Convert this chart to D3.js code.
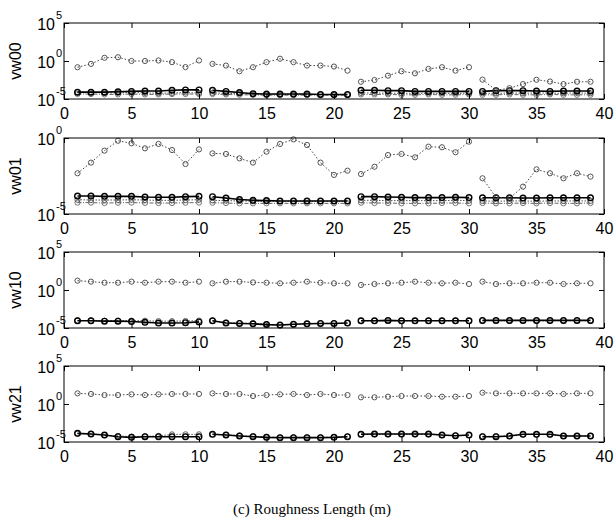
<!DOCTYPE html>
<html>
<head>
<meta charset="utf-8">
<script src="https://cdn.jsdelivr.net/npm/d3@7"></script>
<style>
  body { margin: 0; background: #fff; }
  svg { display: block; font-family: "Liberation Sans", Arial, sans-serif; }
</style>
</head>
<body>
<svg id="chart" width="616" height="530"></svg>
<script>

//============================================================
// Data (values are log10 of the plotted quantity)
//------------------------------------------------------------

var xValues = [1, 2, 3, 4, 5, 6, 7, 8, 9, 10,
               11, 12, 13, 14, 15, 16, 17, 18, 19, 20, 21,
               22, 23, 24, 25, 26, 27, 28, 29, 30,
               31, 32, 33, 34, 35, 36, 37, 38, 39];
var breakAfter = [10, 21, 30]; // the lines are not joined across these
var xTicks = [0, 5, 10, 15, 20, 25, 30, 35, 40];

var panelLabels = ['vw00', 'vw01', 'vw10', 'vw21'];
var yTicksWide = [1e-5, 1, 1e5];
var yTicksNarrow = [1e-5, 1];

var vw00Upper = [-0.82, -0.38, 0.42, 0.5, 0, 0, 0.07, -0.15, -0.8, 0.07,
                 -0.38, -0.6, -1.35, -0.82, -0.15, 0.3, -0.15, -0.6, -0.6, -0.73, -1.27,
                 -2.73, -2.5, -1.93, -1.35, -1.62, -1.04, -0.82, -1.27, -0.82,
                 -2.45, -3.85, -3.58, -3.04, -2.47, -2.7, -3.04, -2.73, -2.73];
var vw00Solid = [-4.1, -4.1, -4.1, -4.05, -4.0, -3.95, -3.95, -3.85, -3.8, -3.8,
                 -3.85, -4.0, -4.15, -4.3, -4.35, -4.35, -4.35, -4.35, -4.4, -4.4, -4.4,
                 -3.85, -3.85, -3.9, -3.9, -4.0, -4.0, -4.0, -4.0, -4.0,
                 -4.0, -3.9, -3.9, -3.9, -3.95, -4.0, -3.95, -3.95, -3.95];
var vw00Dotted = [-4.15, -4.15, -4.2, -4.2, -4.15, -4.2, -4.25, -4.2, -4.15, -4.2,
                  -4.2, -4.25, -4.3, -4.35, -4.4, -4.4, -4.4, -4.4, -4.4, -4.45, -4.4,
                  -4.2, -4.2, -4.25, -4.25, -4.25, -4.25, -4.25, -4.25, -4.25,
                  -4.25, -4.25, -4.2, -4.25, -4.2, -4.25, -4.25, -4.2, -4.25];
var vw00DashDot = [-4.35, -4.35, -4.4, -4.4, -4.35, -4.4, -4.4, -4.35, -4.35, -4.35,
                   -4.35, -4.4, -4.45, -4.45, -4.5, -4.5, -4.5, -4.5, -4.5, -4.5, -4.5,
                   -4.4, -4.4, -4.4, -4.45, -4.45, -4.4, -4.45, -4.45, -4.4,
                   -4.45, -4.45, -4.4, -4.45, -4.45, -4.4, -4.45, -4.45, -4.45];

var vw01Upper = [-2.32, -1.62, -0.83, -0.18, -0.35, -0.68, -0.39, -0.79, -1.71, -0.75,
                 -1.01, -1.05, -1.34, -1.62, -0.9, -0.39, -0.09, -0.46, -1.62, -2.43, -2.15,
                 -2.37, -1.89, -1.12, -1.05, -1.27, -0.57, -0.61, -0.94, -0.24,
                 -2.65, -3.9, -3.97, -3.2, -2.06, -2.32, -2.65, -2.32, -2.54];
var vw01Solid = [-3.82, -3.82, -3.84, -3.84, -3.84, -3.88, -3.9, -3.9, -3.86, -3.84,
                 -3.86, -3.95, -4.05, -4.1, -4.12, -4.14, -4.14, -4.14, -4.14, -4.14, -4.14,
                 -3.86, -3.86, -3.88, -3.9, -3.92, -3.92, -3.92, -3.9, -3.92,
                 -3.93, -3.93, -3.93, -3.95, -3.95, -3.93, -3.93, -3.93, -3.93];
var vw01Dotted = [-4.06, -4.08, -4.08, -4.08, -4.06, -4.08, -4.1, -4.1, -4.08, -4.06,
                  -4.1, -4.12, -4.14, -4.16, -4.16, -4.16, -4.16, -4.16, -4.16, -4.16, -4.16,
                  -4.1, -4.1, -4.12, -4.12, -4.12, -4.12, -4.12, -4.1, -4.12,
                  -4.14, -4.16, -4.14, -4.14, -4.16, -4.14, -4.14, -4.14, -4.14];
var vw01DashDot = [-4.25, -4.25, -4.28, -4.26, -4.25, -4.27, -4.28, -4.28, -4.26, -4.25,
                   -4.26, -4.28, -4.3, -4.3, -4.3, -4.3, -4.3, -4.3, -4.3, -4.3, -4.3,
                   -4.26, -4.28, -4.28, -4.3, -4.3, -4.3, -4.28, -4.28, -4.3,
                   -4.28, -4.3, -4.3, -4.28, -4.3, -4.28, -4.3, -4.3, -4.28];

var vw10Upper = [1.23, 1.1, 0.96, 0.96, 1.1, 0.96, 1.1, 1.1, 0.96, 1.1,
                 0.88, 1.1, 1.1, 1.0, 0.96, 0.88, 0.96, 1.1, 0.96, 0.88, 0.88,
                 0.66, 0.79, 0.88, 0.96, 1.1, 0.96, 0.88, 0.96, 0.79,
                 1.1, 0.79, 0.88, 0.88, 0.96, 0.96, 0.79, 0.88, 0.88];
var vw10Solid = [-4.05, -4.05, -4.1, -4.1, -4.15, -4.25, -4.35, -4.35, -4.3, -4.2,
                 -4.05, -4.35, -4.4, -4.45, -4.55, -4.6, -4.5, -4.45, -4.4, -4.4, -4.35,
                 -4.05, -4.05, -4.0, -4.05, -4.05, -4.05, -4.05, -4.05, -4.05,
                 -4.0, -4.0, -4.0, -4.0, -4.0, -4.0, -4.0, -4.0, -4.0];
var vw10Dotted = [-4.0, -4.03, -4.05, -4.03, -4.03, -4.05, -4.1, -4.1, -4.08, -4.03,
                  -4.03, -4.3, -4.35, -4.4, -4.5, -4.65, -4.55, -4.45, -4.4, -4.38, -4.35,
                  -4.03, -4.05, -4.03, -4.05, -4.05, -4.03, -4.05, -4.03, -4.05,
                  -4.03, -4.03, -4.05, -4.03, -4.03, -4.05, -4.03, -4.03, -4.05];

var vw21Upper = [1.4, 1.32, 1.18, 1.18, 1.27, 1.18, 1.27, 1.32, 1.32, 1.32,
                 1.4, 1.32, 1.32, 1.05, 1.18, 1.27, 1.32, 1.18, 1.32, 1.18, 1.18,
                 0.88, 0.88, 0.96, 1.05, 1.05, 1.05, 0.96, 0.96, 1.05,
                 1.49, 1.4, 1.4, 1.4, 1.4, 1.4, 1.32, 1.4, 1.4];
var vw21Solid = [-3.86, -3.95, -4.08, -4.3, -4.39, -4.3, -4.3, -4.3, -4.3, -4.3,
                 -3.99, -4.08, -4.21, -4.3, -4.39, -4.43, -4.43, -4.43, -4.43, -4.39, -4.3,
                 -3.99, -3.95, -3.95, -3.95, -3.95, -3.95, -4.08, -4.17, -4.08,
                 -4.3, -4.3, -4.21, -3.99, -3.99, -3.99, -4.21, -4.21, -4.21];
var vw21Dotted = [-3.9, -3.95, -4.1, -4.2, -4.3, -4.25, -4.2, -4.0, -3.99, -3.99,
                  -3.99, -4.05, -4.15, -4.25, -4.35, -4.4, -4.4, -4.4, -4.4, -4.35, -4.3,
                  -3.99, -3.99, -3.97, -3.97, -3.99, -3.99, -4.1, -4.15, -4.1,
                  -4.25, -4.25, -4.2, -4.0, -4.0, -4.05, -4.2, -4.2, -4.2];

//============================================================
// Panel layout and series styles
//------------------------------------------------------------

var plotLeft = 64,
    plotRight = 604,
    plotHeight = 76,
    panelTops = [23, 138, 252, 366];

var styles = {
  upper:   { stroke: '#444', dash: '1.5,2',     width: 1,   r: 2.6 },
  solid:   { stroke: '#000', dash: null,        width: 1.6, r: 2.8 },
  dotted:  { stroke: '#555', dash: '1.5,1.5',   width: 1,   r: 2.6 },
  dashdot: { stroke: '#666', dash: '4,1.5,1,1.5', width: 1, r: 2.6 }
};

var panels = [
  { label: panelLabels[0], yTicks: yTicksWide,
    series: [[vw00DashDot, 'dashdot'], [vw00Dotted, 'dotted'], [vw00Solid, 'solid'], [vw00Upper, 'upper']] },
  { label: panelLabels[1], yTicks: yTicksNarrow,
    series: [[vw01DashDot, 'dashdot'], [vw01Dotted, 'dotted'], [vw01Solid, 'solid'], [vw01Upper, 'upper']] },
  { label: panelLabels[2], yTicks: yTicksWide,
    series: [[vw10Dotted, 'dotted'], [vw10Solid, 'solid'], [vw10Upper, 'upper']] },
  { label: panelLabels[3], yTicks: yTicksWide,
    series: [[vw21Dotted, 'dotted'], [vw21Solid, 'solid'], [vw21Upper, 'upper']] }
];

// split a series into the separately drawn runs
function segments(values) {
  var out = [], cur = [];
  xValues.forEach(function(x, i) {
    cur.push([x, Math.pow(10, values[i])]);
    if (breakAfter.indexOf(x) >= 0) {
      out.push(cur);
      cur = [];
    }
  });
  if (cur.length) { out.push(cur); }
  return out;
}

var svg = d3.select('#chart');

var x = d3.scaleLinear().domain([0, 40]).range([plotLeft, plotRight]);

panels.forEach(function(p, pi) {
  var top = panelTops[pi],
      bottom = top + plotHeight,
      yDomain = [p.yTicks[0], p.yTicks[p.yTicks.length - 1]];

  var y = d3.scaleLog().domain(yDomain).range([bottom, top]);

  var g = svg.append('g').attr('class', 'panel panel-' + pi);

  //------------------------------------------------------------
  // Series

  var line = d3.line()
        .x(function(d) { return x(d[0]); })
        .y(function(d) { return y(d[1]); });

  p.series.forEach(function(s) {
    var st = styles[s[1]];
    var sg = g.append('g').attr('class', 'series series-' + s[1]);
    var segs = segments(s[0]);

    sg.selectAll('path')
      .data(segs)
      .enter().append('path')
        .attr('d', line)
        .attr('fill', 'none')
        .attr('stroke', st.stroke)
        .attr('stroke-width', st.width)
        .attr('stroke-dasharray', st.dash);

    sg.selectAll('circle')
      .data(d3.merge(segs))
      .enter().append('circle')
        .attr('cx', function(d) { return x(d[0]); })
        .attr('cy', function(d) { return y(d[1]); })
        .attr('r', st.r)
        .attr('fill', 'none')
        .attr('stroke', st.stroke)
        .attr('stroke-width', s[1] === 'solid' ? 1.4 : 0.9);
  });

  //------------------------------------------------------------
  // Axes (MATLAB style box with inward ticks)

  g.append('g')
      .attr('transform', 'translate(0,' + bottom + ')')
      .call(d3.axisBottom(x).tickValues(xTicks).tickSizeInner(-5).tickSizeOuter(0).tickPadding(9))
      .call(function(a) { a.select('.domain').remove(); })
      .call(function(a) {
        a.selectAll('text').attr('font-size', 16).attr('fill', '#000')
          .attr('font-family', '"Liberation Sans", Arial, sans-serif');
      });

  g.append('g')
      .attr('transform', 'translate(0,' + top + ')')
      .call(d3.axisTop(x).tickValues(xTicks).tickSizeInner(-5).tickSizeOuter(0).tickFormat(''))
      .call(function(a) { a.select('.domain').remove(); });

  g.append('g')
      .attr('transform', 'translate(' + plotLeft + ',0)')
      .call(d3.axisLeft(y).tickValues(p.yTicks).tickSizeInner(-5).tickSizeOuter(0).tickFormat(''))
      .call(function(a) { a.select('.domain').remove(); });

  g.append('g')
      .attr('transform', 'translate(' + plotRight + ',0)')
      .call(d3.axisRight(y).tickValues(p.yTicks).tickSizeInner(-5).tickSizeOuter(0).tickFormat(''))
      .call(function(a) { a.select('.domain').remove(); });

  g.append('rect')
      .attr('x', plotLeft)
      .attr('y', top)
      .attr('width', plotRight - plotLeft)
      .attr('height', plotHeight)
      .attr('fill', 'none')
      .attr('stroke', '#000')
      .attr('stroke-width', 1);

  // log tick labels: "10" with a raised exponent
  var labels = g.selectAll('g.ylabel')
      .data(p.yTicks)
      .enter().append('g')
        .attr('class', 'ylabel')
        .attr('transform', function(d) { return 'translate(0,' + y(d) + ')'; });

  labels.append('text')
      .attr('x', plotLeft - 9)
      .attr('y', 7)
      .attr('text-anchor', 'end')
      .attr('font-size', 16)
      .text('10');

  labels.append('text')
      .attr('x', plotLeft - 8)
      .attr('y', -4)
      .attr('text-anchor', 'start')
      .attr('font-size', 11)
      .text(function(d) { return String(Math.round(Math.log10(d))); });

  g.append('text')
      .attr('transform', 'translate(21,' + (top + plotHeight / 2) + ') rotate(-90)')
      .attr('text-anchor', 'middle')
      .attr('font-size', 16)
      .text(p.label);
});

svg.append('text')
    .attr('x', 312)
    .attr('y', 514)
    .attr('text-anchor', 'middle')
    .attr('font-family', '"Liberation Serif", "Times New Roman", serif')
    .attr('font-size', 15)
    .text('(c) Roughness Length (m)');

</script>
</body>
</html>
